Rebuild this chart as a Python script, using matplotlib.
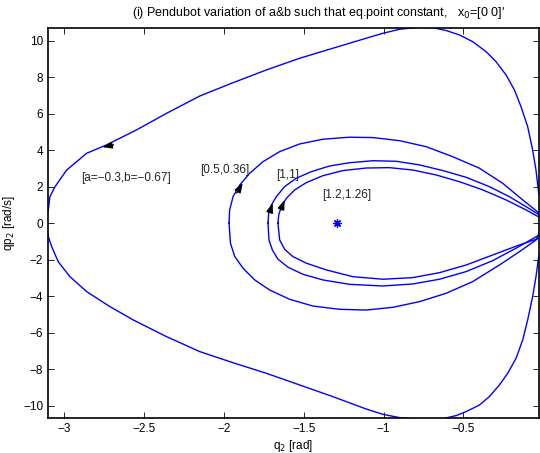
import matplotlib
matplotlib.use('Agg')
import matplotlib.pyplot as plt
import numpy as np

plt.rcParams['font.family'] = ['Liberation Sans', 'DejaVu Sans']
plt.rcParams['font.size'] = 8.5

# orbit [a=-0.3, b=-0.67]
outer_q  = [-3.120, -3.098, -3.088, -3.056, -2.983, -2.858, -2.733, -2.546, -2.358, -2.150,
            -1.942, -1.733, -1.525, -1.317, -1.108, -1.004, -0.900, -0.796, -0.692, -0.608,
            -0.525, -0.442, -0.358, -0.296, -0.233, -0.181, -0.140, -0.098, -0.067, -0.046,
            -0.029, 0.020,
            -0.029, -0.046, -0.067, -0.098, -0.129, -0.171, -0.223, -0.275, -0.338, -0.400,
            -0.483, -0.546, -0.650, -0.796, -0.900, -1.004, -1.108, -1.317, -1.525, -1.733,
            -1.942, -2.150, -2.358, -2.567, -2.713, -2.858, -2.963, -3.036, -3.077, -3.098,
            -3.120]
outer_qp = [0.00, 0.73, 1.46, 2.01, 2.92, 3.84, 4.30, 5.12, 6.03, 6.98,
            7.71, 8.41, 9.05, 9.60, 10.15, 10.42, 10.64, 10.74, 10.73, 10.57,
            10.33, 9.96, 9.41, 8.86, 8.13, 7.31, 6.40, 5.30, 4.02, 2.92,
            1.65, 0.00,
            -1.83, -2.93, -4.03, -5.30, -6.40, -7.41, -8.23, -8.87, -9.51, -9.97,
            -10.33, -10.55, -10.76, -10.76, -10.66, -10.48, -10.19, -9.51, -8.87, -8.23,
            -7.65, -7.04, -6.22, -5.30, -4.57, -3.75, -2.93, -2.11, -1.28, -0.74,
            0.00]

# orbit [0.5, 0.36]
o1_q  = [-1.967, -1.963, -1.942, -1.900, -1.838, -1.754, -1.650, -1.525, -1.379, -1.213,
         -1.067, -0.900, -0.733, -0.567, -0.400, -0.254, -0.129, -0.025, 0.000,
         -0.046, -0.150, -0.275, -0.442, -0.608, -0.775, -0.942, -1.108, -1.275, -1.442,
         -1.588, -1.713, -1.806, -1.879, -1.931, -1.958, -1.967]
o1_qp = [0.00, 0.73, 1.46, 2.10, 2.74, 3.38, 3.93, 4.35, 4.61, 4.72,
         4.70, 4.53, 4.20, 3.65, 3.02, 2.19, 1.28, 0.55, 0.00,
         -0.92, -1.56, -2.29, -3.20, -3.84, -4.30, -4.61, -4.76, -4.72, -4.54,
         -4.17, -3.66, -3.11, -2.47, -1.83, -1.10, 0.00]

# orbit [1, 1]
o2_q  = [-1.723, -1.719, -1.702, -1.671, -1.619, -1.546, -1.452, -1.338, -1.213, -1.067,
         -0.921, -0.775, -0.629, -0.483, -0.338, -0.213, -0.108, -0.025, 0.000,
         -0.025, -0.171, -0.317, -0.483, -0.650, -0.817, -1.004, -1.213, -1.379, -1.504,
         -1.598, -1.661, -1.696, -1.717, -1.723]
o2_qp = [0.00, 0.55, 1.00, 1.46, 2.01, 2.47, 2.83, 3.14, 3.32, 3.43,
         3.40, 3.20, 2.89, 2.52, 2.01, 1.46, 0.91, 0.46, 0.00,
         -0.64, -1.37, -2.05, -2.65, -3.07, -3.33, -3.44, -3.35, -3.11, -2.80,
         -2.41, -1.97, -1.46, -0.92, 0.00]

# orbit [1.2, 1.26]
o3_q  = [-1.661, -1.656, -1.640, -1.608, -1.556, -1.483, -1.379, -1.254, -1.108, -0.963,
         -0.817, -0.671, -0.525, -0.379, -0.233, -0.108, -0.025, 0.000,
         -0.025, -0.150, -0.317, -0.483, -0.650, -0.817, -1.004, -1.192, -1.358, -1.483,
         -1.567, -1.619, -1.650, -1.661]
o3_qp = [0.00, 0.46, 0.91, 1.37, 1.83, 2.23, 2.61, 2.89, 3.03, 3.05,
         2.92, 2.65, 2.28, 1.83, 1.28, 0.73, 0.33, 0.00,
         -0.82, -1.19, -1.74, -2.29, -2.71, -2.98, -3.07, -2.93, -2.56, -2.19,
         -1.83, -1.43, -0.92, 0.00]

eq_point = (-1.29, 0.0)

labels   = ['[a=\u22120.3,b=\u22120.67]', '[0.5,0.36]', '[1,1]', '[1.2,1.26]']
label_xy = [(-2.89, 2.48), (-2.15, 2.92), (-1.675, 2.65), (-1.386, 1.55)]

# arrows: (tail, tip)
arrows = [((-2.69, 4.30), (-2.76, 4.18)),
          ((-1.919, 1.66), (-1.881, 2.21)),
          ((-1.712, 0.62), (-1.694, 1.11)),
          ((-1.644, 0.73), (-1.619, 1.28))]

fig = plt.figure(figsize=(5.40, 4.53), dpi=100)
ax = fig.add_axes([0.0889, 0.0773, 0.909, 0.8609])

for q, qp in [(outer_q, outer_qp), (o1_q, o1_qp), (o2_q, o2_qp), (o3_q, o3_qp)]:
    ax.plot(q, qp, color='b', lw=1.0)

ax.plot(*eq_point, marker=(8, 2, 0), color='b', ms=6, mew=0.9)

for txt, (x, y) in zip(labels, label_xy):
    ax.text(x, y, txt, ha='left', va='center', fontsize=8.5, color='#222222')

for tail, tip in arrows:
    ax.annotate('', xy=tip, xytext=tail,
                arrowprops=dict(arrowstyle='-|>,head_length=0.7,head_width=0.25',
                                color='k', lw=1.0, shrinkA=0, shrinkB=0,
                                mutation_scale=8))

ax.set_xlim(-3.1, -0.028)
ax.set_ylim(-10.68, 10.71)
ax.set_xticks(np.arange(-3.0, -0.4, 0.5))
ax.set_xticklabels(['\u22123', '\u22122.5', '\u22122', '\u22121.5', '\u22121', '\u22120.5'])
ax.set_yticks(np.arange(-10, 11, 2))
ax.tick_params(direction='in', top=True, right=True, length=4, width=0.6, labelsize=8.5)
for s in ax.spines.values():
    s.set_linewidth(1.2)

ax.set_xlabel('q$_2$ [rad]', fontsize=8.5, labelpad=2)
ax.set_ylabel('qp$_2$ [rad/s]', fontsize=8.5, labelpad=4)
fig.text(0.59, 0.972, "(i) Pendubot variation of a&b such that eq.point constant,   x$_0$=[0 0]'",
         ha='center', va='center', fontsize=9)

fig.savefig('out.png', dpi=100)
